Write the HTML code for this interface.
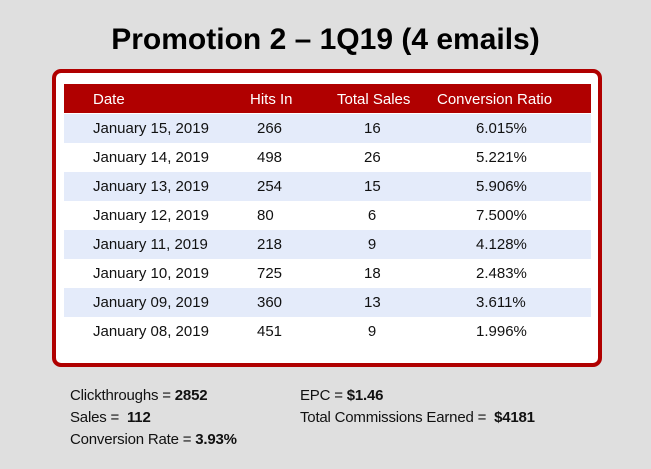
<!DOCTYPE html>
<html><head><style>
body{margin:0;width:651px;height:469px;background:#dfdfdf;font-family:"Liberation Sans",Arial,sans-serif;position:relative;overflow:hidden;color:#111}
.t{position:absolute;white-space:nowrap}
#title{left:0;width:651px;text-align:center;top:23px;font-size:30px;font-weight:bold;color:#000}
#box{position:absolute;left:52px;top:69px;width:542px;height:290px;border:4px solid #b00000;border-radius:9px;background:#fff}
#hdr{position:absolute;left:64px;top:84px;width:527px;height:29px;background:#b00000}
.row{position:absolute;left:64px;width:527px;height:29px}
.c{position:absolute;font-size:15px;top:6px;white-space:nowrap}
.h{color:#fff;font-size:15px;top:7px}
.f{font-size:15px;letter-spacing:-0.2px}
</style></head><body>
<div class="t" id="title">Promotion 2 – 1Q19 (4 emails)</div>
<div id="box"></div>
<div id="hdr">
<span class="c h" style="left:29px">Date</span>
<span class="c h" style="left:186px">Hits In</span>
<span class="c h" style="left:273px">Total Sales</span>
<span class="c h" style="left:373px">Conversion Ratio</span>
</div>
<div class="row" style="top:114px;background:#e4ebfa"><span class="c" style="left:29px">January 15, 2019</span><span class="c" style="left:193px">266</span><span class="c" style="left:300px;width:16px;text-align:center">16</span><span class="c" style="left:412px">6.015%</span></div>
<div class="row" style="top:143px"><span class="c" style="left:29px">January 14, 2019</span><span class="c" style="left:193px">498</span><span class="c" style="left:300px;width:16px;text-align:center">26</span><span class="c" style="left:412px">5.221%</span></div>
<div class="row" style="top:172px;background:#e4ebfa"><span class="c" style="left:29px">January 13, 2019</span><span class="c" style="left:193px">254</span><span class="c" style="left:300px;width:16px;text-align:center">15</span><span class="c" style="left:412px">5.906%</span></div>
<div class="row" style="top:201px"><span class="c" style="left:29px">January 12, 2019</span><span class="c" style="left:193px">80</span><span class="c" style="left:300px;width:16px;text-align:center">6</span><span class="c" style="left:412px">7.500%</span></div>
<div class="row" style="top:230px;background:#e4ebfa"><span class="c" style="left:29px">January 11, 2019</span><span class="c" style="left:193px">218</span><span class="c" style="left:300px;width:16px;text-align:center">9</span><span class="c" style="left:412px">4.128%</span></div>
<div class="row" style="top:259px"><span class="c" style="left:29px">January 10, 2019</span><span class="c" style="left:193px">725</span><span class="c" style="left:300px;width:16px;text-align:center">18</span><span class="c" style="left:412px">2.483%</span></div>
<div class="row" style="top:288px;background:#e4ebfa"><span class="c" style="left:29px">January 09, 2019</span><span class="c" style="left:193px">360</span><span class="c" style="left:300px;width:16px;text-align:center">13</span><span class="c" style="left:412px">3.611%</span></div>
<div class="row" style="top:317px"><span class="c" style="left:29px">January 08, 2019</span><span class="c" style="left:193px">451</span><span class="c" style="left:300px;width:16px;text-align:center">9</span><span class="c" style="left:412px">1.996%</span></div>
<div class="t f" style="left:70px;top:387px">Clickthroughs = <b>2852</b></div>
<div class="t f" style="left:70px;top:409px">Sales = &nbsp;<b>112</b></div>
<div class="t f" style="left:70px;top:431px">Conversion Rate = <b>3.93%</b></div>
<div class="t f" style="left:300px;top:387px">EPC = <b>$1.46</b></div>
<div class="t f" style="left:300px;top:409px">Total Commissions Earned = &nbsp;<b>$4181</b></div>
</body></html>
